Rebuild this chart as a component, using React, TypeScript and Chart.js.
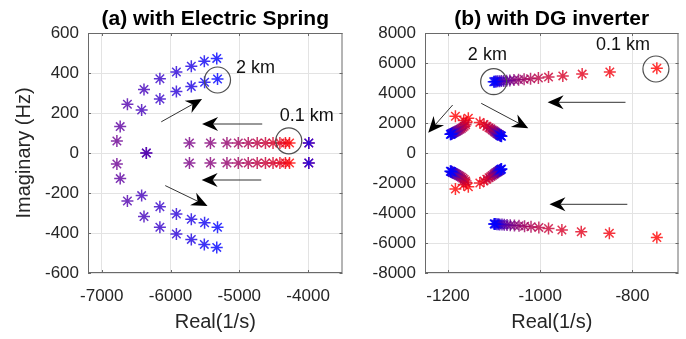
import React, { useEffect, useRef } from 'react';
import { Chart, registerables } from 'chart.js';

Chart.register(...registerables);

const FONT = '"Liberation Sans", Arial, Helvetica, sans-serif';
const STEPS = 20; // line length 0.1 km (red) ... 2 km (blue)

// ---------------- (a) with Electric Spring ----------------
const esTitle = '(a) with Electric Spring';
const esXTicks = [-7000, -6000, -5000, -4000];
const esYTicks = [-600, -400, -200, 0, 200, 400, 600];
const esXMin = -7200, esXMax = -3500, esYMin = -600, esYMax = 600;

const esRowRe = [-4270, -4330, -4410, -4510, -4620, -4740, -4870, -5015, -5180, -5420, -5725];
const esRowUpIm = [50, 50, 50, 50, 50, 50, 50, 50, 50, 50, 50];
const esRowLoIm = [-50, -50, -50, -50, -50, -50, -50, -50, -50, -50, -50];
const esOuterRe = [-6780, -6732, -6627, -6386, -6155, -5915, -5698, -5509, -5328];
const esOuterUpIm = [60, 132, 244, 318, 371, 405, 434, 459, 473];
const esOuterLoIm = [-55, -128, -240, -318, -371, -405, -432, -457, -472];
const esInnerRe = [-6352, -6420, -6155, -5915, -5698, -5505, -5317];
const esInnerUpIm = [0, 215, 270, 307, 332, 354, 370];
const esInnerLoIm = [0, -213, -269, -305, -331, -349, -371];
const esFixedRe = [-3990];
const esFixedUpIm = [50];
const esFixedLoIm = [-50];

const esArrowFromRe = [-6135, -4667, -4681, -6077];
const esArrowFromIm = [156, 145, -135, -163];
const esArrowToRe = [-5542, -5542, -5548, -5462];
const esArrowToIm = [270, 145, -135, -265];
const esCircleRe = [-5317, -4281];
const esCircleIm = [365, 61];
const esLabelText = ['2 km', '0.1 km'];
const esLabelRe = [-5047, -4411];
const esLabelIm = [425, 185];

// ---------------- (b) with DG inverter ----------------
const dgTitle = '(b) with DG inverter';
const dgXTicks = [-1200, -1000, -800];
const dgYTicks = [-8000, -6000, -4000, -2000, 0, 2000, 4000, 6000, 8000];
const dgXMin = -1250, dgXMax = -700, dgYMin = -8000, dgYMax = 8000;

const dgUpRe = [-747, -849, -909, -951, -982, -1004, -1021, -1035, -1047, -1057, -1066, -1073, -1079, -1084, -1088, -1092, -1095, -1097, -1099, -1101];
const dgUpIm = [5650, 5400, 5260, 5140, 5060, 4995, 4950, 4915, 4885, 4860, 4840, 4822, 4808, 4795, 4785, 4776, 4768, 4762, 4757, 4753];
const dgLoRe = [-747, -850, -911, -953, -982, -1003, -1020, -1034, -1046, -1056, -1065, -1072, -1078, -1083, -1088, -1091, -1094, -1097, -1099, -1100];
const dgLoIm = [-5640, -5350, -5245, -5130, -5030, -4960, -4920, -4885, -4855, -4830, -4810, -4795, -4780, -4770, -4760, -4750, -4742, -4736, -4730, -4725];
const dgVLeftRe = [-1184, -1166, -1161, -1162, -1165, -1168, -1171, -1174, -1177, -1180, -1182, -1184, -1186, -1188, -1190, -1191, -1192, -1193, -1194, -1195];
const dgVLeftUpIm = [2450, 2160, 2010, 1890, 1790, 1710, 1640, 1580, 1530, 1485, 1445, 1410, 1380, 1352, 1328, 1306, 1287, 1270, 1255, 1242];
const dgVLeftLoIm = [-2400, -2120, -1980, -1860, -1760, -1680, -1610, -1550, -1500, -1455, -1415, -1380, -1350, -1322, -1298, -1276, -1257, -1240, -1225, -1212];
const dgVRightRe = [-1156, -1131, -1122, -1116, -1111, -1107, -1104, -1101, -1099, -1097, -1095, -1093, -1092, -1090, -1089, -1088, -1087, -1086, -1085, -1084];
const dgVRightUpIm = [2320, 2040, 1900, 1785, 1690, 1610, 1540, 1480, 1425, 1378, 1336, 1300, 1268, 1240, 1214, 1190, 1168, 1148, 1130, 1112];
const dgVRightLoIm = [-2250, -2000, -1860, -1745, -1650, -1570, -1500, -1440, -1385, -1338, -1296, -1260, -1228, -1200, -1174, -1150, -1128, -1108, -1090, -1072];

const dgArrowFromRe = [-815, -1190, -1128, -811];
const dgArrowFromIm = [3380, 3200, 3313, -3420];
const dgArrowToRe = [-984, -1243, -1026, -980];
const dgArrowToIm = [3380, 1353, 1647, -3420];
const dgCircleRe = [-1101, -749];
const dgCircleIm = [4753, 5600];
const dgLabelText = ['2 km', '0.1 km'];
const dgLabelRe = [-1157, -879];
const dgLabelIm = [6533, 7200];

type Branch = { start: number; re: number[]; im: number[] };

const esBranches: Branch[] = [
  { start: 0, re: esFixedRe, im: esFixedUpIm },
  { start: 0, re: esFixedRe, im: esFixedLoIm },
  { start: 0, re: esRowRe, im: esRowUpIm },
  { start: 0, re: esRowRe, im: esRowLoIm },
  { start: 11, re: esOuterRe, im: esOuterUpIm },
  { start: 11, re: esOuterRe, im: esOuterLoIm },
  { start: 13, re: esInnerRe, im: esInnerUpIm },
  { start: 13, re: esInnerRe, im: esInnerLoIm },
  { start: 19, re: esFixedRe, im: esFixedUpIm },
  { start: 19, re: esFixedRe, im: esFixedLoIm },
];

const dgBranches: Branch[] = [
  { start: 0, re: dgUpRe, im: dgUpIm },
  { start: 0, re: dgLoRe, im: dgLoIm },
  { start: 0, re: dgVLeftRe, im: dgVLeftUpIm },
  { start: 0, re: dgVLeftRe, im: dgVLeftLoIm },
  { start: 0, re: dgVRightRe, im: dgVRightUpIm },
  { start: 0, re: dgVRightRe, im: dgVRightLoIm },
];

function stepColor(step: number, alpha: number) {
  const t = step / (STEPS - 1);
  return `rgba(${Math.round(255 * (1 - t))},0,${Math.round(255 * t)},${alpha})`;
}

function buildDatasets(branches: Branch[]) {
  const ds: any[] = [];
  for (let s = 0; s < STEPS; s++) {
    const pts: { x: number; y: number }[] = [];
    branches.forEach((b) => {
      const k = s - b.start;
      if (k >= 0 && k < b.re.length) pts.push({ x: b.re[k], y: b.im[k] });
    });
    ds.push({
      label: `step ${s}`,
      data: pts,
      order: STEPS - s,
      pointStyle: 'star',
      pointRadius: 6,
      pointHoverRadius: 6,
      pointBorderWidth: 1.5,
      borderColor: stepColor(s, 0.8),
      backgroundColor: stepColor(s, 0.8),
      showLine: false,
    });
  }
  return ds;
}

function drawArrow(ctx: CanvasRenderingContext2D, x0: number, y0: number, x1: number, y1: number) {
  const dx = x1 - x0, dy = y1 - y0;
  const len = Math.hypot(dx, dy);
  const ux = dx / len, uy = dy / len;
  const nx = -uy, ny = ux;
  const L = 16, W = 7, N = 11;
  ctx.strokeStyle = '#333';
  ctx.lineWidth = 1;
  ctx.beginPath();
  ctx.moveTo(x0, y0);
  ctx.lineTo(x1 - ux * N, y1 - uy * N);
  ctx.stroke();
  ctx.fillStyle = '#000';
  ctx.beginPath();
  ctx.moveTo(x1, y1);
  ctx.lineTo(x1 - ux * L + nx * W, y1 - uy * L + ny * W);
  ctx.lineTo(x1 - ux * N, y1 - uy * N);
  ctx.lineTo(x1 - ux * L - nx * W, y1 - uy * L - ny * W);
  ctx.closePath();
  ctx.fill();
}

type PanelCfg = {
  title: string;
  xTicks: number[];
  yTicks: number[];
  xMin: number; xMax: number; yMin: number; yMax: number;
  branches: Branch[];
  arrowFromRe: number[]; arrowFromIm: number[]; arrowToRe: number[]; arrowToIm: number[];
  circleRe: number[]; circleIm: number[];
  labelText: string[]; labelRe: number[]; labelIm: number[];
  yTitle: string | null;
  yAxisWidth: number;
  rightPad: number;
};

function makePlugin(cfg: PanelCfg) {
  return {
    id: 'decor',
    afterDraw(chart: any) {
      const { ctx, chartArea: a, scales } = chart;
      const xs = scales.x, ys = scales.y;
      ctx.save();
      // box
      ctx.strokeStyle = '#6a6a6a';
      ctx.lineWidth = 1;
      ctx.strokeRect(a.left + 0.5, a.top + 0.5, a.right - a.left - 1, a.bottom - a.top - 1);
      // inside tick marks
      ctx.beginPath();
      cfg.xTicks.forEach((v) => {
        const px = Math.round(xs.getPixelForValue(v)) + 0.5;
        ctx.moveTo(px, a.bottom); ctx.lineTo(px, a.bottom - 3);
        ctx.moveTo(px, a.top); ctx.lineTo(px, a.top + 3);
      });
      cfg.yTicks.forEach((v) => {
        const py = Math.round(ys.getPixelForValue(v)) + 0.5;
        ctx.moveTo(a.left, py); ctx.lineTo(a.left + 3, py);
        ctx.moveTo(a.right, py); ctx.lineTo(a.right - 3, py);
      });
      ctx.stroke();
      // circles
      ctx.strokeStyle = '#505050';
      ctx.lineWidth = 1.2;
      cfg.circleRe.forEach((re, i) => {
        ctx.beginPath();
        ctx.arc(xs.getPixelForValue(re), ys.getPixelForValue(cfg.circleIm[i]), 13, 0, Math.PI * 2);
        ctx.stroke();
      });
      // arrows
      cfg.arrowFromRe.forEach((re, i) => {
        drawArrow(
          ctx,
          xs.getPixelForValue(re), ys.getPixelForValue(cfg.arrowFromIm[i]),
          xs.getPixelForValue(cfg.arrowToRe[i]), ys.getPixelForValue(cfg.arrowToIm[i])
        );
      });
      // labels
      ctx.fillStyle = '#111';
      ctx.font = `18px ${FONT}`;
      ctx.textAlign = 'left';
      ctx.textBaseline = 'middle';
      cfg.labelText.forEach((t, i) => {
        ctx.fillText(t, xs.getPixelForValue(cfg.labelRe[i]), ys.getPixelForValue(cfg.labelIm[i]));
      });
      // title
      ctx.fillStyle = '#000';
      ctx.font = `bold 21px ${FONT}`;
      ctx.textAlign = 'center';
      ctx.fillText(cfg.title, (a.left + a.right) / 2, 19.5);
      ctx.restore();
    },
  };
}

function Panel({ cfg, width, left }: { cfg: PanelCfg; width: number; left: number }) {
  const ref = useRef<HTMLCanvasElement | null>(null);
  useEffect(() => {
    if (!ref.current) return;
    const chart = new Chart(ref.current, {
      type: 'scatter',
      data: { datasets: buildDatasets(cfg.branches) },
      plugins: [makePlugin(cfg)],
      options: {
        animation: false,
        responsive: false,
        devicePixelRatio: 1,
        events: [],
        layout: { padding: { left: 0, right: cfg.rightPad, top: 33, bottom: 0 } },
        plugins: { legend: { display: false }, tooltip: { enabled: false }, title: { display: false } },
        scales: {
          x: {
            type: 'linear',
            min: cfg.xMin,
            max: cfg.xMax,
            afterBuildTicks: (s: any) => { s.ticks = cfg.xTicks.map((v) => ({ value: v })); },
            afterFit: (s: any) => { s.height = 66; },
            grid: { color: '#e3e3e3', drawTicks: false, lineWidth: 1 },
            border: { display: false },
            ticks: {
              font: { family: FONT, size: 17 },
              color: '#262626',
              padding: 13,
              maxRotation: 0,
              autoSkip: false,
              callback: (v: any) => String(v),
            },
            title: {
              display: true,
              text: 'Real(1/s)',
              font: { family: FONT, size: 20 },
              color: '#262626',
              padding: { top: 0, bottom: 4.5 },
            },
          },
          y: {
            type: 'linear',
            min: cfg.yMin,
            max: cfg.yMax,
            afterBuildTicks: (s: any) => { s.ticks = cfg.yTicks.map((v) => ({ value: v })); },
            afterFit: (s: any) => { s.width = cfg.yAxisWidth; },
            grid: { color: '#e3e3e3', drawTicks: false, lineWidth: 1 },
            border: { display: false },
            ticks: {
              font: { family: FONT, size: 17 },
              color: '#262626',
              padding: 9,
              autoSkip: false,
              callback: (v: any) => String(v),
            },
            title: {
              display: !!cfg.yTitle,
              text: cfg.yTitle || '',
              font: { family: FONT, size: 20 },
              color: '#262626',
              padding: { top: 12, bottom: 0 },
            },
          },
        },
      } as any,
    });
    return () => chart.destroy();
  }, []);
  return (
    <canvas
      ref={ref}
      width={width}
      height={339}
      style={{ position: 'absolute', left, top: 0, width, height: 339 }}
    />
  );
}

const esCfg: PanelCfg = {
  title: esTitle,
  xTicks: esXTicks, yTicks: esYTicks,
  xMin: esXMin, xMax: esXMax, yMin: esYMin, yMax: esYMax,
  branches: esBranches,
  arrowFromRe: esArrowFromRe, arrowFromIm: esArrowFromIm, arrowToRe: esArrowToRe, arrowToIm: esArrowToIm,
  circleRe: esCircleRe, circleIm: esCircleIm,
  labelText: esLabelText, labelRe: esLabelRe, labelIm: esLabelIm,
  yTitle: 'Imaginary (Hz)',
  yAxisWidth: 88,
  rightPad: 6,
};

const dgCfg: PanelCfg = {
  title: dgTitle,
  xTicks: dgXTicks, yTicks: dgYTicks,
  xMin: dgXMin, xMax: dgXMax, yMin: dgYMin, yMax: dgYMax,
  branches: dgBranches,
  arrowFromRe: dgArrowFromRe, arrowFromIm: dgArrowFromIm, arrowToRe: dgArrowToRe, arrowToIm: dgArrowToIm,
  circleRe: dgCircleRe, circleIm: dgCircleIm,
  labelText: dgLabelText, labelRe: dgLabelRe, labelIm: dgLabelIm,
  yTitle: null,
  yAxisWidth: 75,
  rightPad: 5,
};

export default function App() {
  return (
    <div style={{ position: 'fixed', left: 0, top: 0, width: 686, height: 339, background: '#fff', overflow: 'hidden' }}>
      <Panel cfg={esCfg} width={350} left={0} />
      <Panel cfg={dgCfg} width={336} left={350} />
    </div>
  );
}
